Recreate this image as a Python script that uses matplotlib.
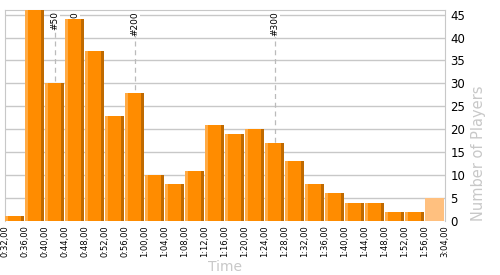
import matplotlib
matplotlib.use("Agg")
import matplotlib.pyplot as plt
import numpy as np

# Data
tick_labels = ["0:32,00", "0:36,00", "0:40,00", "0:44,00", "0:48,00", "0:52,00",
               "0:56,00", "1:00,00", "1:04,00", "1:08,00", "1:12,00", "1:16,00",
               "1:20,00", "1:24,00", "1:28,00", "1:32,00", "1:36,00", "1:40,00",
               "1:44,00", "1:48,00", "1:52,00", "1:56,00", "3:04,00"]
counts = [1, 47, 30, 44, 37, 23, 28, 10, 8, 11, 21, 19, 20, 17, 13, 8, 6, 4, 4, 2, 2, 5]
last_is_partial = True
marker_labels = ["#50", "#100", "#200", "#300"]
marker_minutes = [42, 46, 58, 86]
start_minute = 32
bin_minutes = 4

fig = plt.figure(figsize=(5, 2.75), dpi=100)
ax = fig.add_axes([0.01, 1 - 221 / 275, 0.88, (221 - 10) / 275])

n = len(counts)
x = np.arange(n)
w = 0.95
main_c = "#FF8C00"
light_c = "#FFAA44"
dark_c = "#C06A00"

cols = [main_c] * n
if last_is_partial:
    cols[-1] = "#FFC07F"
ax.bar(x, counts, width=w, align="edge", color=cols, zorder=3, linewidth=0)
full = n - 1 if last_is_partial else n
ax.bar(x[:full], counts[:full], width=0.15, align="edge", color=light_c, zorder=4, linewidth=0)
ax.bar(x[:full] + w - 0.15, counts[:full], width=0.15, align="edge", color=dark_c, zorder=4, linewidth=0)

# markers
for lab, m in zip(marker_labels, marker_minutes):
    xp = (m - start_minute) / bin_minutes
    ax.axvline(xp, color="#BBBBBB", linestyle=(0, (4, 3)), linewidth=0.9, zorder=1)
    ax.text(xp, 45.75, lab, rotation=90, va="top", ha="center", fontsize=6.5,
            color="black", zorder=2,
            bbox=dict(facecolor="white", edgecolor="none", pad=0.5))

ax.set_xlim(0, n)
ax.set_ylim(0, 46)
ax.set_xticks(np.arange(n + 1))
ax.set_xticklabels(tick_labels, rotation=90, fontsize=6)
ax.tick_params(axis="x", length=0, pad=3)
ax.yaxis.tick_right()
ax.set_yticks(np.arange(0, 46, 5))
ax.tick_params(axis="y", length=0, pad=4, labelsize=8.5)
ax.grid(axis="y", color="#C8C8C8", linewidth=1, zorder=0)
ax.set_axisbelow(True)
for s in ["left", "right", "top"]:
    ax.spines[s].set_color("#C8C8C8")
ax.spines["bottom"].set_visible(False)

ax.set_xlabel("Time", color="#C8C8C8", fontsize=10, labelpad=2)
ax.text(1.0 + 34 / 440, 0.0, "Number of Players", transform=ax.transAxes,
        rotation=90, ha="center", va="bottom", color="#C8C8C8", fontsize=10.5)

fig.savefig("out.png", dpi=100)
